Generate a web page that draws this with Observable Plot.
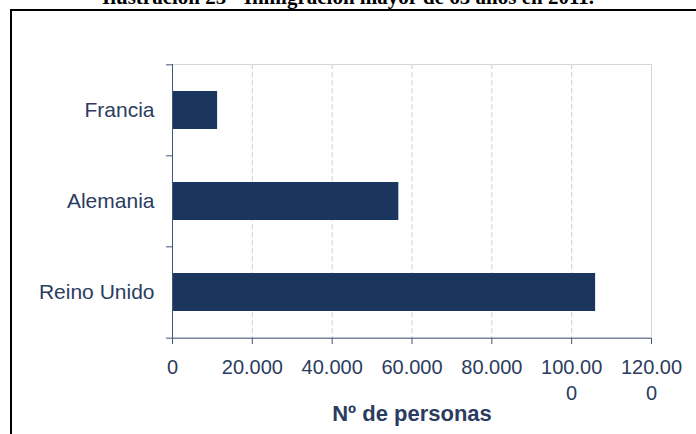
<!DOCTYPE html>
<html><head><meta charset="utf-8">
<script src="https://cdn.jsdelivr.net/npm/d3@7"></script>
<script src="https://cdn.jsdelivr.net/npm/@observablehq/plot@0.6"></script>
<style>
html,body{margin:0;padding:0;background:#fff;}
#wrap{position:relative;width:696px;height:434px;overflow:hidden;background:#fff;}
#chart{position:absolute;left:0;top:0;}
#title{position:absolute;left:0;width:696px;top:-13px;text-align:center;font-family:"Liberation Serif","Times New Roman",serif;font-weight:bold;font-size:21px;line-height:21px;color:#000;white-space:nowrap;}
#box{position:absolute;left:10px;top:9px;width:720px;height:460px;border-left:2px solid #000;border-top:2px solid #000;}
</style></head><body>
<div id="wrap"><div id="chart"></div><div id="title">Ilustración 25 - Inmigración mayor de 65 años en 2011.</div><div id="box"></div></div>
<script>
const categories = ["Francia", "Alemania", "Reino Unido"];
const values = [11300, 56700, 106000];
const xTicks = [0, 20000, 40000, 60000, 80000, 100000, 120000];
const xTickLabels = ["0", "20.000", "40.000", "60.000", "80.000", "100.00\n0", "120.00\n0"];
const xTitle = "Nº de personas";

const data = categories.map((c, i) => ({pais: c, valor: values[i]}));

const W = 696, H = 434, mL = 172, mR = 45, mT = 64, mB = 96;
const step = (H - mT - mB) / categories.length;
const barColor = "#1a365f", textColor = "#2c3c60", axisColor = "#44557a", gridColor = "#cdcdcd", frameColor = "#d6d6d6";

const plot = Plot.plot({
  width: W, height: H,
  marginLeft: mL, marginRight: mR, marginTop: mT, marginBottom: mB,
  style: {fontFamily: "'Liberation Sans', Arial, sans-serif", fontSize: "20px", background: "transparent", color: textColor},
  x: {domain: [0, 120000], label: null},
  y: {domain: categories, paddingInner: 0.58, paddingOuter: 0.29, label: null},
  marks: [
    Plot.gridX(xTicks.slice(1, -1), {stroke: gridColor, strokeOpacity: 1, strokeDasharray: "5,3"}),
    Plot.frame({stroke: frameColor}),
    Plot.barX(data, {x: "valor", y: "pais", fill: barColor}),
    Plot.ruleX([0], {stroke: axisColor}),
    Plot.ruleY(categories, {y: d => d, x1: 0, x2: 0, insetLeft: -6, dy: -step / 2, stroke: axisColor}),
    Plot.ruleY(categories.slice(-1), {y: d => d, x1: 0, x2: 120000, insetLeft: -6, dy: step / 2, stroke: axisColor}),
    Plot.axisX(xTicks, {tickSize: 6, tickFormat: () => "", color: axisColor, label: null}),
    Plot.axisX(xTicks, {tickSize: 0, tickPadding: 17, tickFormat: d => xTickLabels[xTicks.indexOf(d)], color: textColor, label: null, lineHeight: 1.3, fontSize: 20}),
    Plot.axisY({tickSize: 0, tickPadding: 18, color: textColor, label: null, fontSize: 21}),
    Plot.text([xTitle], {frameAnchor: "bottom", lineAnchor: "top", dy: 67, fontWeight: "bold", fontSize: 22, fill: textColor})
  ]
});
document.getElementById("chart").appendChild(plot);
</script>
</body></html>
